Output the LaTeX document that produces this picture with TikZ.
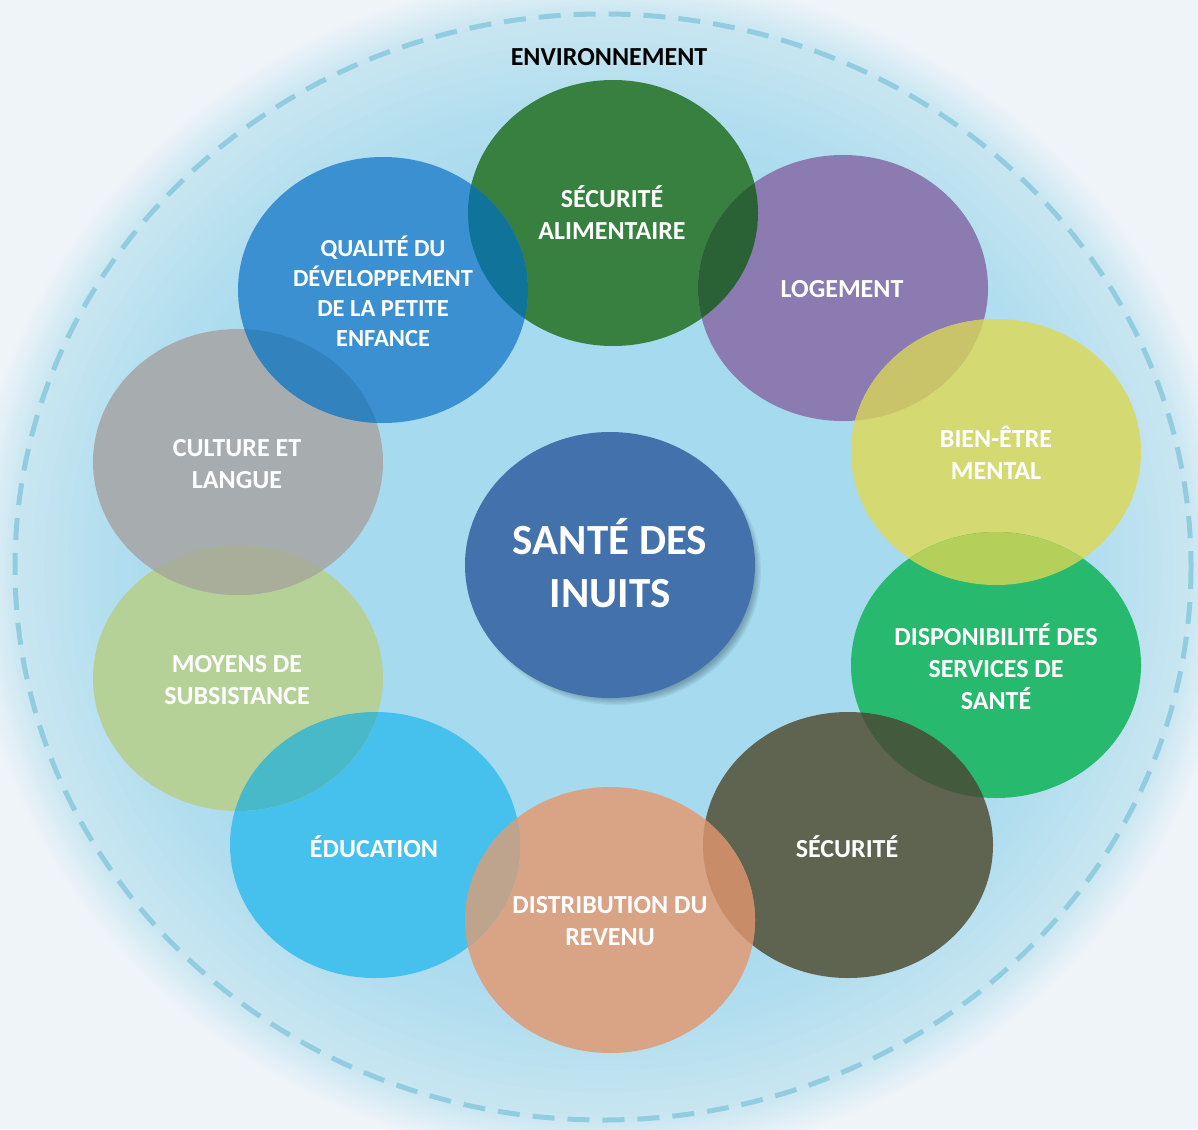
\documentclass[tikz,border=0pt]{standalone}
\usepackage{fontspec}
\setmainfont{Carlito}
\usetikzlibrary{calc}
\definecolor{bg}{HTML}{EFF4F9}
\definecolor{envA}{HTML}{A6DAEE}
\definecolor{envB}{HTML}{B3DEEF}
\definecolor{envC}{HTML}{C8E6F1}
\definecolor{dashc}{HTML}{92CDDF}
\definecolor{cAlim}{HTML}{37803F}
\definecolor{cLoge}{HTML}{8B7BB0}
\definecolor{cBien}{HTML}{D4D972}
\definecolor{cDisp}{HTML}{27BA6F}
\definecolor{cSecu}{HTML}{5F6450}
\definecolor{cReve}{HTML}{D9A385}
\definecolor{cEduc}{HTML}{46C1EE}
\definecolor{cMoye}{HTML}{B6D198}
\definecolor{cCult}{HTML}{A7ADAF}
\definecolor{cQual}{HTML}{3A90D0}
\definecolor{cSant}{HTML}{4271AC}
\definecolor{oJA}{HTML}{10739A}
\definecolor{oAB}{HTML}{2A6236}
\definecolor{oBC}{HTML}{C9C46A}
\definecolor{oCD}{HTML}{B4D05A}
\definecolor{oDE}{HTML}{435B3C}
\definecolor{oEF}{HTML}{C98C69}
\definecolor{oFG}{HTML}{BEA48C}
\definecolor{oGH}{HTML}{48B9C8}
\definecolor{oHI}{HTML}{A8AE9A}
\definecolor{oIJ}{HTML}{3283BD}
\definecolor{shd}{HTML}{2F4A5C}
\tikzset{
  lbl/.style={text=white, font=\bfseries\fontsize{26}{32}\selectfont, align=center, inner sep=0pt},
  lblq/.style={text=white, font=\bfseries\fontsize{24.5}{30}\selectfont, align=center, inner sep=0pt},
  lblbig/.style={text=white, font=\bfseries\fontsize{43}{53}\selectfont, align=center, inner sep=0pt},
  rr/.style={x radius=145, y radius=133}
}
\newcommand{\ovl}[3]{\begin{scope}\clip (#1) ellipse [rr]; \fill[#3] (#2) ellipse [rr];\end{scope}}
\newcommand{\envring}[2]{\pgfmathsetmacro\rx{588*#1}\pgfmathsetmacro\ry{553*#1}\fill[#2] (603,567) ellipse [x radius=\rx, y radius=\ry];}
\begin{document}
\begin{tikzpicture}[x=1pt,y=-1pt]
\useasboundingbox (0,0) rectangle (1198,1129);
\fill[bg] (0,0) rectangle (1198,1129);
% environment glow
\foreach \k in {0,...,16} {\pgfmathsetmacro\s{1.08-0.005*\k}\pgfmathtruncatemacro\p{100*\k/16}\envring{\s}{envC!\p!bg}}
\foreach \k in {1,...,15} {\pgfmathsetmacro\s{1.0-0.01*\k}\pgfmathtruncatemacro\p{100*\k/15}\envring{\s}{envB!\p!envC}}
\foreach \k in {1,...,15} {\pgfmathsetmacro\s{0.85-0.01*\k}\pgfmathtruncatemacro\p{100*\k/15}\envring{\s}{envA!\p!envB}}
\draw[dashc, line width=5pt, dash pattern=on 22pt off 13pt] (603,567) ellipse [x radius=588, y radius=553];
\node[font=\bfseries\fontsize{26}{32}\selectfont, text=black, inner sep=0pt] (env) at (609,57) {ENVIRONNEMENT};
% centres
\coordinate (A) at (613,213);
\coordinate (B) at (843,288);
\coordinate (C) at (996,452);
\coordinate (D) at (996,665);
\coordinate (E) at (848,845);
\coordinate (F) at (610,920);
\coordinate (G) at (375,845);
\coordinate (H) at (238,678);
\coordinate (I) at (238,462);
\coordinate (J) at (383,290);
\coordinate (K) at (610,565);
% circles
\fill[cAlim] (A) ellipse [rr];
\fill[cLoge] (B) ellipse [rr];
\fill[cBien] (C) ellipse [rr];
\fill[cDisp] (D) ellipse [rr];
\fill[cSecu] (E) ellipse [rr];
\fill[cReve] (F) ellipse [rr];
\fill[cEduc] (G) ellipse [rr];
\fill[cMoye] (H) ellipse [rr];
\fill[cCult] (I) ellipse [rr];
\fill[cQual] (J) ellipse [rr];
% overlaps
\ovl{J}{A}{oJA}
\ovl{A}{B}{oAB}
\ovl{B}{C}{oBC}
\ovl{C}{D}{oCD}
\ovl{D}{E}{oDE}
\ovl{E}{F}{oEF}
\ovl{F}{G}{oFG}
\ovl{G}{H}{oGH}
\ovl{H}{I}{oHI}
\ovl{I}{J}{oIJ}
% centre circle with soft shadow
\coordinate (Ks) at ($(K)+(5,6)$);
\foreach \i in {0,...,7} {\pgfmathsetmacro\ra{146-1.2*\i}\pgfmathsetmacro\rb{134-1.2*\i}
  \fill[shd, opacity=0.07] (Ks) ellipse [x radius=\ra, y radius=\rb];}
\fill[cSant] (K) ellipse [rr];
% labels
\node[lbl] (tA) at (612,213) {SÉCURITÉ\\ALIMENTAIRE};
\node[lbl] (tB) at (842,289) {LOGEMENT};
\node[lbl] (tC) at (996,453) {BIEN-ÊTRE\\MENTAL};
\node[lbl] (tD) at (996,667) {DISPONIBILITÉ DES\\SERVICES DE\\SANTÉ};
\node[lbl] (tE) at (847,847) {SÉCURITÉ};
\node[lbl] (tF) at (610,921) {DISTRIBUTION DU\\REVENU};
\node[lbl] (tG) at (374,847) {ÉDUCATION};
\node[lbl] (tH) at (237,680) {MOYENS DE\\SUBSISTANCE};
\node[lbl] (tI) at (237,464) {CULTURE ET\\LANGUE};
\node[lblq] (tJ) at (383,291) {QUALITÉ DU\\DÉVELOPPEMENT\\DE LA PETITE\\ENFANCE};
\node[lblbig] (tK) at (610,563) {SANTÉ DES\\INUITS};
\end{tikzpicture}
\end{document}
